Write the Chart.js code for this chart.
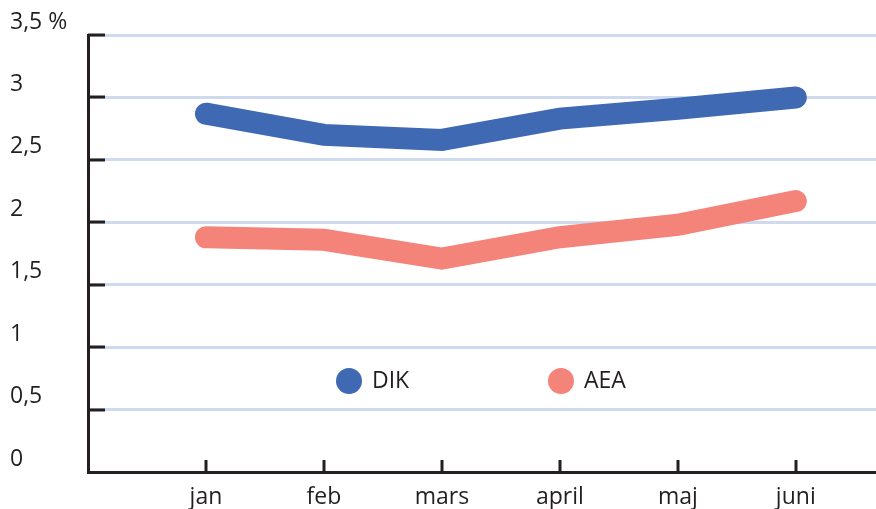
<!DOCTYPE html>
<html>
<head>
<meta charset="utf-8">
<script src="https://cdn.jsdelivr.net/npm/chart.js@4/dist/chart.umd.min.js"></script>
<style>
  html, body { margin: 0; padding: 0; background: #ffffff; }
  #wrap { width: 876px; height: 509px; }
</style>
</head>
<body>
<div id="wrap"><canvas id="c" width="876" height="509"></canvas></div>
<script>
const categories = ['jan', 'feb', 'mars', 'april', 'maj', 'juni'];
const dikValues = [2.87, 2.70, 2.66, 2.83, 2.91, 3.00];
const aeaValues = [1.88, 1.86, 1.71, 1.88, 1.98, 2.17];
const yTickValues = [0, 0.5, 1, 1.5, 2, 2.5, 3, 3.5];
const yTickLabels = ['0', '0,5', '1', '1,5', '2', '2,5', '3', '3,5 %'];
const seriesNames = ['DIK', 'AEA'];

const BLUE = '#3f69b3';
const SALMON = '#f4837a';
const DARK = '#231f20';
const GRID = '#cfdaef';
const FONT = '"Open Sans", Lato, sans-serif';

const innerTicks = {
  id: 'innerTicks',
  afterDraw(chart) {
    const ctx = chart.ctx;
    const x = chart.scales.x, y = chart.scales.y;
    const area = chart.chartArea;
    ctx.save();
    ctx.strokeStyle = DARK;
    ctx.lineWidth = 3;
    ctx.lineCap = 'butt';
    yTickValues.forEach(v => {
      if (v === 0) return;
      const py = Math.round(y.getPixelForValue(v));
      ctx.beginPath();
      ctx.moveTo(area.left, py);
      ctx.lineTo(area.left + 17, py);
      ctx.stroke();
    });
    categories.forEach((c, i) => {
      const px = Math.round(x.getPixelForValue(i));
      ctx.beginPath();
      ctx.moveTo(px, area.bottom);
      ctx.lineTo(px, area.bottom - 12);
      ctx.stroke();
    });
    // legend inside plot
    const legendPos = [[349, 381], [561, 381]];
    chart.data.datasets.forEach((ds, i) => {
      const [cx, cy] = legendPos[i];
      ctx.fillStyle = ds.borderColor;
      ctx.beginPath();
      ctx.arc(cx, cy, 13, 0, Math.PI * 2);
      ctx.fill();
      ctx.fillStyle = DARK;
      ctx.font = '23px ' + FONT;
      ctx.textAlign = 'left';
      ctx.textBaseline = 'middle';
      ctx.fillText(ds.label, cx + 23, cy);
    });
    ctx.restore();
  }
};

new Chart(document.getElementById('c'), {
  type: 'line',
  data: {
    datasets: [
      {
        label: seriesNames[0],
        data: dikValues.map((v, i) => ({ x: i, y: v })),
        borderColor: BLUE,
        backgroundColor: BLUE,
        borderWidth: 22,
        borderCapStyle: 'round',
        borderJoinStyle: 'miter',
        pointRadius: 0,
        tension: 0
      },
      {
        label: seriesNames[1],
        data: aeaValues.map((v, i) => ({ x: i, y: v })),
        borderColor: SALMON,
        backgroundColor: SALMON,
        borderWidth: 22,
        borderCapStyle: 'round',
        borderJoinStyle: 'miter',
        pointRadius: 0,
        tension: 0
      }
    ]
  },
  options: {
    responsive: false,
    animation: false,
    layout: { padding: { left: 10, top: 35, right: 0, bottom: 0 } },
    plugins: { legend: { display: false }, tooltip: { enabled: false } },
    scales: {
      x: {
        type: 'linear',
        min: -1,
        max: 5.68,
        afterBuildTicks: s => { s.ticks = categories.map((c, i) => ({ value: i })); },
        afterFit: s => { s.height = 37; },
        grid: { display: false, drawTicks: false },
        border: { display: true, color: DARK, width: 3 },
        ticks: {
          callback: v => categories[v],
          color: DARK,
          font: { family: FONT, size: 23 },
          padding: 12,
          maxRotation: 0,
          autoSkip: false
        }
      },
      y: {
        min: 0,
        max: 3.5,
        afterBuildTicks: s => { s.ticks = yTickValues.map(v => ({ value: v })); },
        afterFit: s => { s.width = 78; },
        grid: { color: GRID, lineWidth: 3, drawTicks: false },
        border: { display: true, color: DARK, width: 3 },
        ticks: {
          callback: (v) => yTickLabels[yTickValues.indexOf(v)],
          color: DARK,
          font: { family: FONT, size: 23 },
          crossAlign: 'far',
          labelOffset: -13,
          padding: 0
        }
      }
    }
  },
  plugins: [innerTicks]
});
</script>
</body>
</html>
